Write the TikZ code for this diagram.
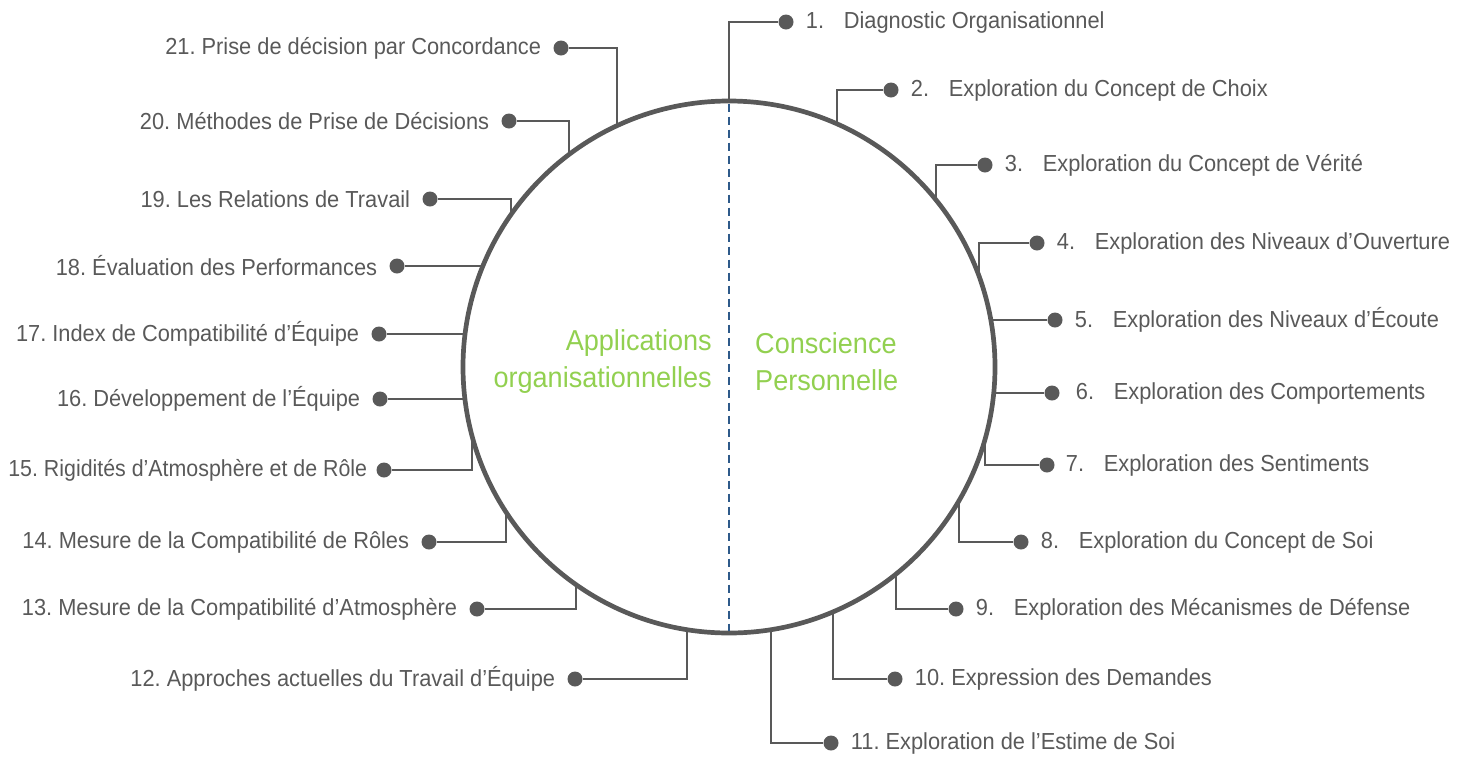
\documentclass[tikz,border=0pt]{standalone}
\usepackage{fontspec}
\setmainfont[FakeStretch=0.94]{Liberation Sans}
\usetikzlibrary{positioning,calc}
\definecolor{gris}{HTML}{595959}
\definecolor{vert}{HTML}{92D050}
\definecolor{bleu}{HTML}{2E5A8A}
\frenchspacing

\begin{document}
\begin{tikzpicture}[x=1pt,y=1pt,
    ring/.style={circle,draw=gris,line width=4.7pt,minimum size=532pt,inner sep=0pt,outer sep=0pt},
    dot/.style={circle,fill=gris,inner sep=0pt,minimum size=15pt},
    conn/.style={draw=gris,line width=2pt},
    lbl/.style={text=gris,font=\fontsize{23.2}{27}\selectfont,inner sep=0pt},
    titre/.style={text=vert,font=\fontsize{28.8}{37}\selectfont,inner sep=0pt}]
  \useasboundingbox (0,0) rectangle (1473,-756);
  \node[ring] (ring) at (729,-367) {}; % the circle
  \draw[bleu,line width=2pt,dash pattern=on 8pt off 5pt,shorten <=2.5pt,shorten >=2.5pt] (ring.north) -- (ring.south); % divider
  \node[titre,anchor=east,align=right] (appl) at (712,-362) {Applications\\organisationnelles};
  \node[titre,anchor=west,align=left] (consc) at (755,-362) {Conscience\\Personnelle};
  % right half
  \node[dot] (d1) at (786,-22) {};
  \node[dot] (d2) at (891,-90) {};
  \node[dot] (d3) at (985,-165) {};
  \node[dot] (d4) at (1037,-243) {};
  \node[dot] (d5) at (1055,-320) {};
  \node[dot] (d6) at (1052,-393) {};
  \node[dot] (d7) at (1047,-465) {};
  \node[dot] (d8) at (1021,-542) {};
  \node[dot] (d9) at (956,-609) {};
  \node[dot] (d10) at (895,-679) {};
  \node[dot] (d11) at (831,-743) {};
  \node[lbl,right=12pt of d1] (t1) {\makebox[38pt][l]{1.}Diagnostic Organisationnel};
  \node[lbl,right=12pt of d2] (t2) {\makebox[38pt][l]{2.}Exploration du Concept de Choix};
  \node[lbl,right=12pt of d3] (t3) {\makebox[38pt][l]{3.}Exploration du Concept de Vérité};
  \node[lbl,right=12pt of d4] (t4) {\makebox[38pt][l]{4.}Exploration des Niveaux d’Ouverture};
  \node[lbl,right=12pt of d5] (t5) {\makebox[38pt][l]{5.}Exploration des Niveaux d’Écoute};
  \node[lbl,right=16pt of d6] (t6) {\makebox[38pt][l]{6.}Exploration des Comportements};
  \node[lbl,right=11pt of d7] (t7) {\makebox[38pt][l]{7.}Exploration des Sentiments};
  \node[lbl,right=12pt of d8] (t8) {\makebox[38pt][l]{8.}Exploration du Concept de Soi};
  \node[lbl,right=12pt of d9] (t9) {\makebox[38pt][l]{9.}Exploration des Mécanismes de Défense};
  \node[lbl,right=12pt of d10] (t10) {10. Expression des Demandes};
  \node[lbl,right=12pt of d11] (t11) {11. Exploration de l’Estime de Soi};
  \draw[conn] (ring.90) |- (d1);
  \draw[conn] (ring.66.5) |- (d2);
  \draw[conn] (ring.39.9) |- (d3);
  \draw[conn] (ring.20.6) |- (d4);
  \draw[conn] (ring.10.2 |- d5) -- (d5);
  \draw[conn] (ring.354.4 |- d6) -- (d6);
  \draw[conn] (ring.344.2) |- (d7);
  \draw[conn] (ring.330.3) |- (d8);
  \draw[conn] (ring.309.7) |- (d9);
  \draw[conn] (ring.293.7) |- (d10);
  \draw[conn] (ring.279.3) |- (d11);
  % left half
  \node[dot] (d12) at (575,-679) {};
  \node[dot] (d13) at (477,-609) {};
  \node[dot] (d14) at (429,-542) {};
  \node[dot] (d15) at (384,-470) {};
  \node[dot] (d16) at (380,-399) {};
  \node[dot] (d17) at (379,-334) {};
  \node[dot] (d18) at (397,-266) {};
  \node[dot] (d19) at (430,-199) {};
  \node[dot] (d20) at (509,-121) {};
  \node[dot] (d21) at (561,-48) {};
  \node[lbl,left=12pt of d12] (t12) {12. Approches actuelles du Travail d’Équipe};
  \node[lbl,left=12pt of d13] (t13) {13. Mesure de la Compatibilité d’Atmosphère};
  \node[lbl,left=12pt of d14] (t14) {14. Mesure de la Compatibilité de Rôles};
  \node[lbl,left=9pt of d15] (t15) {\scalebox{0.98}[1]{15. Rigidités d’Atmosphère et de Rôle}};
  \node[lbl,left=12pt of d16] (t16) {16. Développement de l’Équipe};
  \node[lbl,left=12pt of d17] (t17) {17. Index de Compatibilité d’Équipe};
  \node[lbl,left=12pt of d18] (t18) {18. Évaluation des Performances};
  \node[lbl,left=12pt of d19] (t19) {19. Les Relations de Travail};
  \node[lbl,left=12pt of d20] (t20) {20. Méthodes de Prise de Décisions};
  \node[lbl,left=12pt of d21] (t21) {21. Prise de décision par Concordance};
  \draw[conn] (ring.261.6) |- (d12);
  \draw[conn] (ring.235.4) |- (d13);
  \draw[conn] (ring.213.8) |- (d14);
  \draw[conn] (ring.195.0) |- (d15);
  \draw[conn] (ring.186.7 |- d16) -- (d16);
  \draw[conn] (ring.172.7 |- d17) -- (d17);
  \draw[conn] (ring.157.7 |- d18) -- (d18);
  \draw[conn] (ring.145.4) |- (d19);
  \draw[conn] (ring.127.2) |- (d20);
  \draw[conn] (ring.115.1) |- (d21);
\end{tikzpicture}
\end{document}
